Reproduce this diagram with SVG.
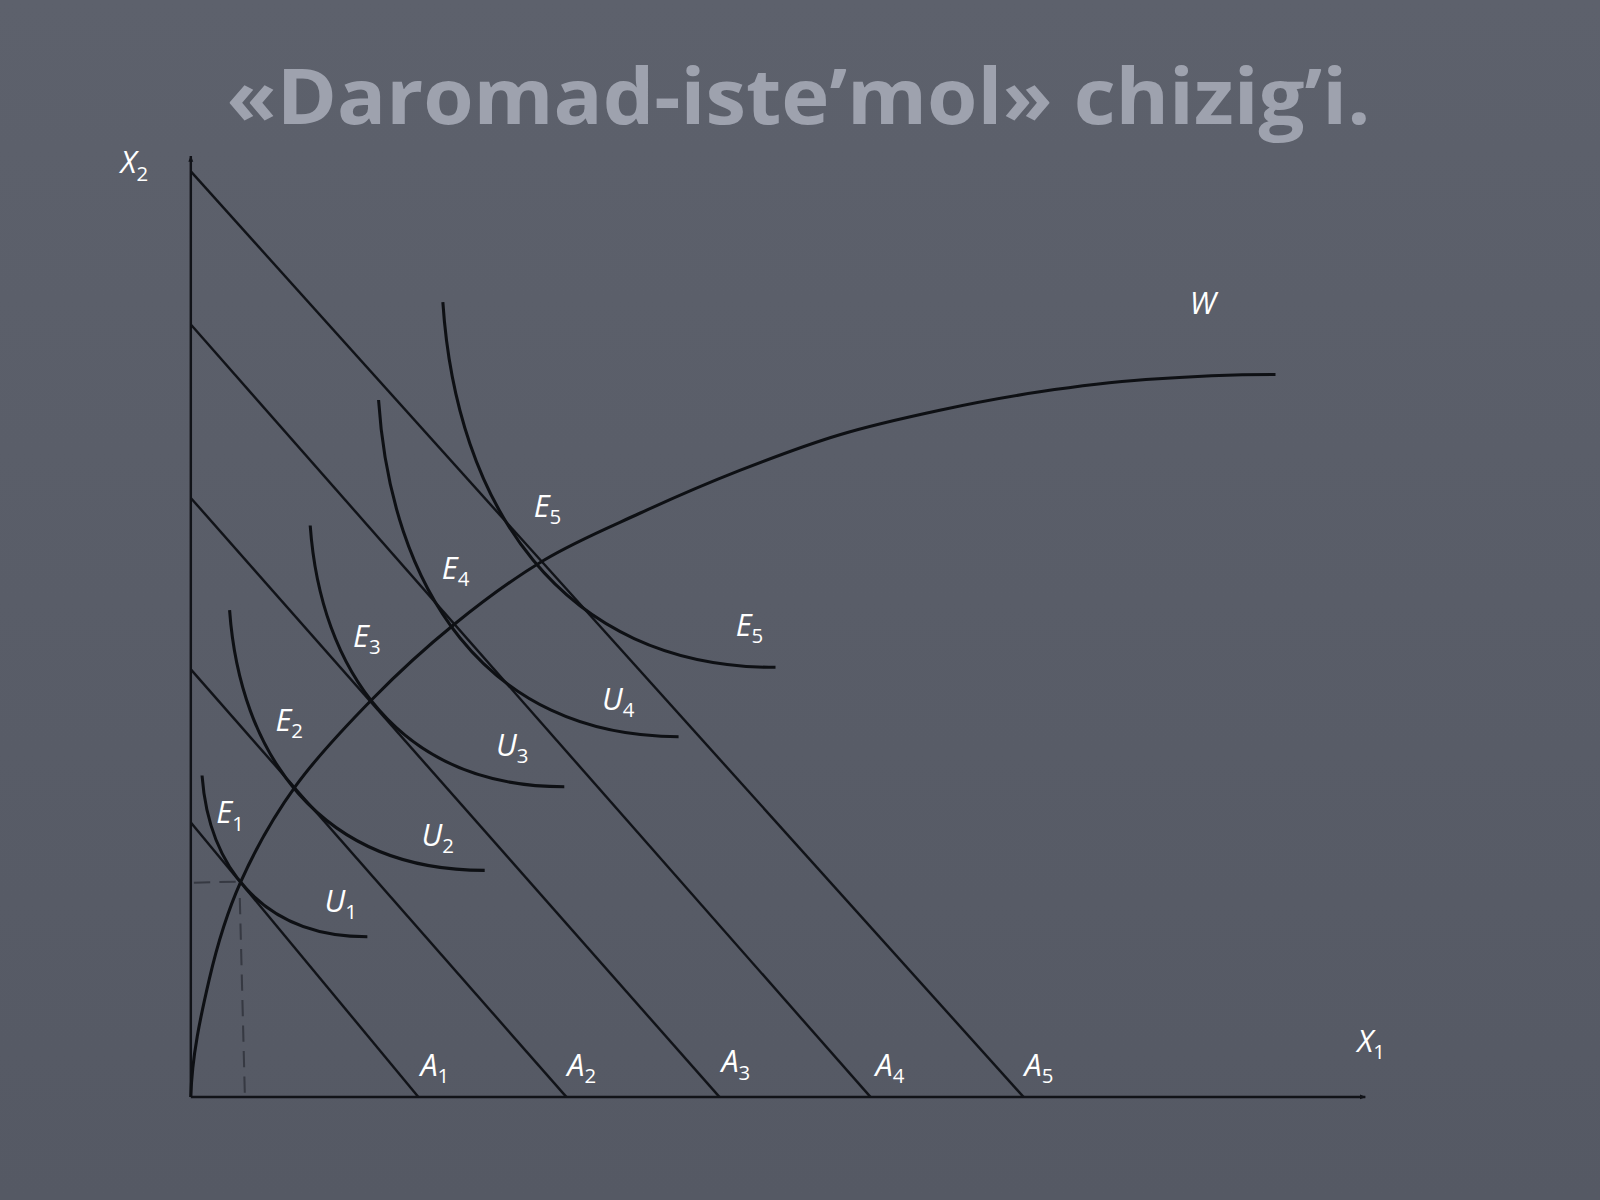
<svg xmlns="http://www.w3.org/2000/svg" width="1600" height="1200" viewBox="0 0 1600 1200">
<defs>
<linearGradient id="bg" x1="0" y1="0" x2="0" y2="1">
<stop offset="0" stop-color="#5d616c"/>
<stop offset="1" stop-color="#555964"/>
</linearGradient>
<marker id="arr" viewBox="0 0 10 10" refX="9" refY="5" markerWidth="6" markerHeight="6" orient="auto" markerUnits="userSpaceOnUse">
<path d="M0,1 L10,5 L0,9 Z" fill="#111318"/>
</marker>
<style>
.ln{fill:none;stroke:#111318;stroke-width:2.4;}
.cv{fill:none;stroke:#0e1014;stroke-width:3;}
.ds{fill:none;stroke:#363942;stroke-width:2;stroke-dasharray:16 9;}
.lb{font-family:"Open Sans","Noto Sans","DejaVu Sans",sans-serif;font-style:italic;font-size:30px;fill:#ffffff;}
.sb{font-size:20px;font-style:normal;}
.tt{font-family:"Open Sans","Noto Sans","DejaVu Sans",sans-serif;font-weight:bold;font-size:75px;fill:#9ea2ae;}
</style>
</defs>
<rect x="0" y="0" width="1600" height="1200" fill="url(#bg)"/>
<g transform="scale(1.0204)">
<text id="title" class="tt" x="222" y="122" textLength="1121" lengthAdjust="spacingAndGlyphs">«Daromad-iste’mol» chizig’i.</text>

<g id="axes">
<line class="ln" x1="187" y1="1075" x2="187" y2="153" marker-end="url(#arr)"/>
<line class="ln" x1="187" y1="1075" x2="1338" y2="1075" marker-end="url(#arr)"/>
</g>

<g id="budget-lines">
<line id="A1-line" class="ln" x1="187" y1="806" x2="410" y2="1075"/>
<line id="A2-line" class="ln" x1="187" y1="656" x2="555" y2="1075"/>
<line id="A3-line" class="ln" x1="187" y1="488" x2="705" y2="1075"/>
<line id="A4-line" class="ln" x1="187" y1="318" x2="853" y2="1075"/>
<line id="A5-line" class="ln" x1="187" y1="168" x2="1003" y2="1075"/>
</g>

<g id="dashes">
<line class="ds" x1="190" y1="865" x2="232" y2="864"/>
<line class="ds" x1="235" y1="880" x2="240" y2="1075"/>
</g>

<g id="indifference-curves">
<path id="U1" class="cv" d="M198,760 C204.5,847 254.7,918 360,918"/>
<path id="U2" class="cv" d="M225,598 C235,738 312.5,853 475,853"/>
<path id="U3" class="cv" d="M304,515 C314,656 391,771 553,771"/>
<path id="U4" class="cv" d="M371,392 C383,574 474,722 665,722"/>
<path id="U5" class="cv" d="M434,296 C447,493 548,654 760,654"/>
</g>

<g id="W-curve">
<path class="cv" d="M187,1075 C188,1035 196.8,995.2 205,960 C213.2,924.8 221.8,895.7 236,864 C250.2,832.3 268.5,799.8 290,770 C311.5,740.2 339.2,711.3 365,685 C390.8,658.7 417,634.7 445,612 C473,589.3 502.7,567.2 533,549 C563.3,530.8 595,517.7 627,503 C659,488.3 692.3,473.8 725,461 C757.7,448.2 790.3,435.8 823,426 C855.7,416.2 888.3,409 921,402 C953.7,395 985.3,389 1019,384 C1052.7,379 1084.5,374.8 1123,372 C1161.5,369.2 1210,367 1250,367"/>
</g>

<g id="labels">
<text class="lb" x="118" y="170">X<tspan class="sb" dy="7">2</tspan></text>
<text class="lb" x="1330" y="1031">X<tspan class="sb" dy="7">1</tspan></text>
<text class="lb" x="1166" y="308">W</text>
<text class="lb" x="212" y="807">E<tspan class="sb" dy="7">1</tspan></text>
<text class="lb" x="270" y="716">E<tspan class="sb" dy="7">2</tspan></text>
<text class="lb" x="346" y="634">E<tspan class="sb" dy="7">3</tspan></text>
<text class="lb" x="433" y="567">E<tspan class="sb" dy="7">4</tspan></text>
<text class="lb" x="523" y="507">E<tspan class="sb" dy="7">5</tspan></text>
<text class="lb" x="721" y="623">E<tspan class="sb" dy="7">5</tspan></text>
<text class="lb" x="318" y="894">U<tspan class="sb" dy="7">1</tspan></text>
<text class="lb" x="413" y="829">U<tspan class="sb" dy="7">2</tspan></text>
<text class="lb" x="486" y="741">U<tspan class="sb" dy="7">3</tspan></text>
<text class="lb" x="590" y="696">U<tspan class="sb" dy="7">4</tspan></text>
<text class="lb" x="412" y="1054">A<tspan class="sb" dy="7">1</tspan></text>
<text class="lb" x="556" y="1054">A<tspan class="sb" dy="7">2</tspan></text>
<text class="lb" x="707" y="1051">A<tspan class="sb" dy="7">3</tspan></text>
<text class="lb" x="858" y="1054">A<tspan class="sb" dy="7">4</tspan></text>
<text class="lb" x="1004" y="1054">A<tspan class="sb" dy="7">5</tspan></text>
</g>
</g>
</svg>
